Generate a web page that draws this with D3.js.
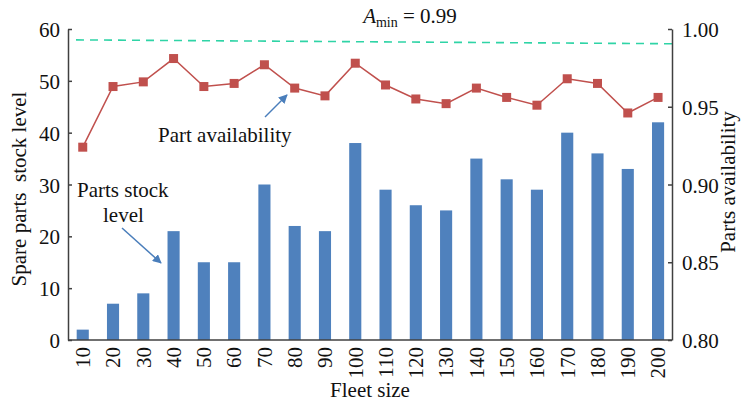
<!DOCTYPE html>
<html><head><meta charset="utf-8">
<script src="https://cdn.jsdelivr.net/npm/d3@7"></script>
<style>
body{margin:0;background:#fff;}
text{font-family:"Liberation Serif","Times New Roman",serif;fill:#111;}
</style>
</head><body>
<svg id="c" width="741" height="404"></svg>
<script>
const fleetSizes = [10,20,30,40,50,60,70,80,90,100,110,120,130,140,150,160,170,180,190,200];
const stockLevels = [2,7,9,21,15,15,30,22,21,38,29,26,25,35,31,29,40,36,33,42];
const availability = [0.924,0.963,0.966,0.981,0.963,0.965,0.977,0.962,0.957,0.978,0.964,0.955,0.952,0.962,0.956,0.951,0.968,0.965,0.946,0.956];
const aMinLine = [0.993, 0.9905];
const leftTicks = [0,10,20,30,40,50,60];
const rightTicks = [0.80,0.85,0.90,0.95,1.00];

const svg = d3.select("#c");
const L = 68, R = 672, T = 29, B = 340;
const FS = 21;
const axisColor = "#404040";

const x = d3.scaleBand().domain(fleetSizes).range([67.6, 673.2]).paddingInner(0.6).paddingOuter(0.3);
const yL = d3.scaleLinear().domain([0,60]).range([B,T]);
const yR = d3.scaleLinear().domain([0.8,1.0]).range([B,T]);

// bars
svg.append("g").selectAll("rect").data(stockLevels).join("rect")
  .attr("x",(d,i)=>x(fleetSizes[i]))
  .attr("y",d=>yL(d))
  .attr("width",x.bandwidth())
  .attr("height",d=>B-yL(d))
  .attr("fill","#4f81bd");

// dashed A_min line
const dx = d3.scaleLinear().domain([0,1]).range([76,677]);
svg.append("path")
  .attr("d", d3.line().x((d,i)=>dx(i)).y(d=>yR(d))(aMinLine))
  .attr("fill","none").attr("stroke","#2fd4a6").attr("stroke-width",1.6)
  .attr("stroke-dasharray","8,6");

// availability line
const cx = v => x(v) + x.bandwidth()/2;
svg.append("path")
  .attr("d", d3.line().x((d,i)=>cx(fleetSizes[i])).y(d=>yR(d))(availability))
  .attr("fill","none").attr("stroke","#c0504d").attr("stroke-width",1.5);
const ms = 9;
svg.append("g").selectAll("rect").data(availability).join("rect")
  .attr("x",(d,i)=>cx(fleetSizes[i])-ms/2)
  .attr("y",d=>yR(d)-ms/2)
  .attr("width",ms).attr("height",ms)
  .attr("fill","#c0504d");

function styleAxis(g){
  g.selectAll("path,line").attr("stroke",axisColor).attr("stroke-width",1.5);
  g.selectAll("text").attr("font-size",FS).attr("fill","#111")
   .attr("font-family",'"Liberation Serif","Times New Roman",serif');
}

// left axis
const gl = svg.append("g").attr("transform",`translate(${L},0)`)
  .call(d3.axisLeft(yL).tickValues(leftTicks).tickSizeInner(-4).tickSizeOuter(0).tickPadding(8));
styleAxis(gl);
gl.selectAll("text").attr("dy","0.36em");

// right axis
const gr = svg.append("g").attr("transform",`translate(${R},0)`)
  .call(d3.axisRight(yR).tickValues(rightTicks).tickFormat(d3.format(".2f")).tickSizeInner(-4).tickSizeOuter(0).tickPadding(10));
styleAxis(gr);
gr.selectAll("text").attr("dy","0.36em");

// bottom axis
const gb = svg.append("g").attr("transform",`translate(0,${B})`)
  .call(d3.axisBottom(x).tickSize(0).tickPadding(0));
styleAxis(gb);
gb.select(".domain").attr("d",`M${L},0H${R}`);
gb.selectAll("text")
  .attr("transform","rotate(-90)")
  .attr("text-anchor","end")
  .attr("x",-7).attr("y",0).attr("dy","0.35em");

// axis titles
svg.append("text").attr("transform","translate(26,189) rotate(-90)")
  .attr("text-anchor","middle").attr("font-size",FS)
  .text("Spare parts\u00a0\u00a0stock level");
svg.append("text").attr("transform","translate(735,182) rotate(-90)")
  .attr("text-anchor","middle").attr("font-size",FS)
  .text("Parts availability");
svg.append("text").attr("x",370).attr("y",397)
  .attr("text-anchor","middle").attr("font-size",FS)
  .text("Fleet size");

// title
const t = svg.append("text").attr("x",410).attr("y",23).attr("text-anchor","middle").attr("font-size",FS);
t.append("tspan").attr("font-style","italic").text("A");
t.append("tspan").attr("font-size",14).attr("dy",4).text("min");
t.append("tspan").attr("dy",-4).text(" = 0.99");

// annotations
const defs = svg.append("defs");
defs.append("marker").attr("id","ah").attr("viewBox","0 0 10 10")
  .attr("refX",9).attr("refY",5).attr("markerWidth",6).attr("markerHeight",6)
  .attr("orient","auto").append("path").attr("d","M0,0L10,5L0,10z").attr("fill","#4a7ebb");

svg.append("text").attr("x",158).attr("y",142).attr("font-size",FS).text("Part availability");
svg.append("line").attr("x1",265).attr("y1",117).attr("x2",287).attr("y2",95)
  .attr("stroke","#4a7ebb").attr("stroke-width",1.5).attr("marker-end","url(#ah)");

svg.append("text").attr("x",77).attr("y",197).attr("font-size",FS).text("Parts stock");
svg.append("text").attr("x",103).attr("y",222).attr("font-size",FS).text("level");
svg.append("line").attr("x1",122).attr("y1",228).attr("x2",161).attr("y2",263)
  .attr("stroke","#4a7ebb").attr("stroke-width",1.5).attr("marker-end","url(#ah)");
</script>
</body></html>
